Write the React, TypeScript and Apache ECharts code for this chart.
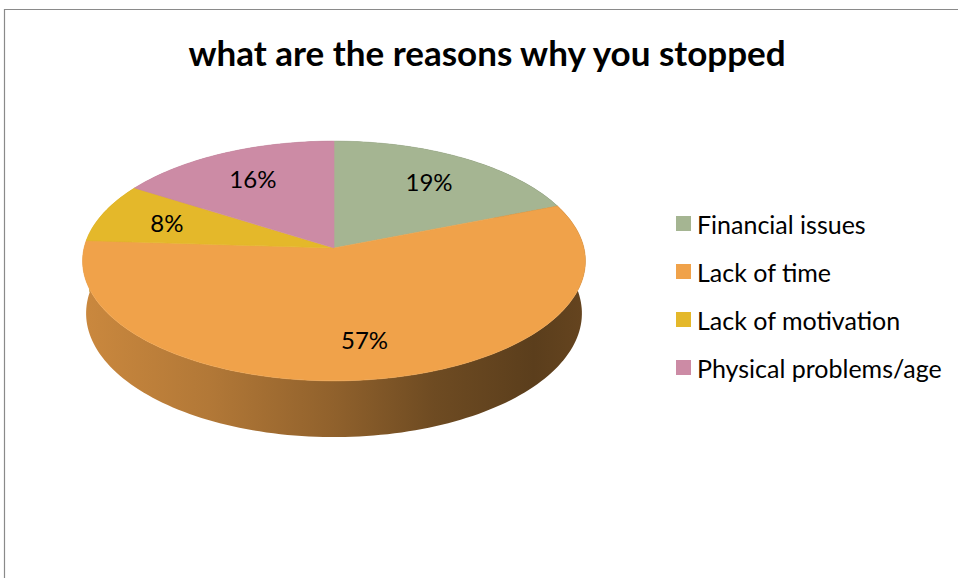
import { useEffect, useRef } from "react";
import * as echarts from "echarts";

const titleText = "what are the reasons why you stopped";
const categories = ["Financial issues", "Lack of time", "Lack of motivation", "Physical problems/age"];
const values = [19, 57, 8, 16];
const colors = ["#a5b592", "#f0a24a", "#e4b82a", "#cc8ba5"];

const FONT = "Lato, 'Open Sans', sans-serif";

// perspective projection of a tilted disc (radius 1, thickness H)
const CX = 334;
const AY = 248;
const F = 2032;
const D = 8.13;
const SA = 0.474;
const CA = 0.88;
const H = 0.24;
const LABEL_R = 0.72;

function project(x: number, y: number, z: number): number[] {
  const yv = y * CA + z * SA;
  const d = D + z * CA - y * SA;
  return [CX + (F * x) / d, AY - (F * yv) / d];
}
function rim(theta: number, r: number, y: number): number[] {
  return project(r * Math.sin(theta), y, r * Math.cos(theta));
}
function shade(hex: string, f: number): string {
  const n = parseInt(hex.slice(1), 16);
  const r = Math.round(((n >> 16) & 255) * f);
  const g = Math.round(((n >> 8) & 255) * f);
  const b = Math.round((n & 255) * f);
  return `rgb(${r},${g},${b})`;
}

export default function App() {
  const ref = useRef<HTMLDivElement>(null);
  useEffect(() => {
    document.body.style.margin = "0";
    const chart = echarts.init(ref.current!, null, { renderer: "svg" });
    const total = values.reduce((a, b) => a + b, 0);
    const leftX = project(-1, 0, 0)[0];
    const rightX = project(1, 0, 0)[0];

    const series = categories.map((name, i) => ({
      type: "custom",
      name,
      coordinateSystem: "none",
      silent: true,
      itemStyle: { color: colors[i] },
      data: [[values[i]]],
      renderItem: (params: any, api: any) => {
        const idx = params.seriesIndex;
        const before = values.slice(0, idx).reduce((a, b) => a + b, 0);
        const start = (before / total) * Math.PI * 2;
        const end = start + (api.value(0) / total) * Math.PI * 2;
        const steps = Math.max(2, Math.ceil((end - start) / (Math.PI / 120)));
        const topPts: number[][] = [project(0, 0, 0)];
        const topArc: number[][] = [];
        const botArc: number[][] = [];
        for (let k = 0; k <= steps; k++) {
          const t = start + ((end - start) * k) / steps;
          topArc.push(rim(t, 1, 0));
          botArc.push(rim(t, 1, -H));
        }
        topPts.push(...topArc);
        const sidePts = [...topArc, ...botArc.reverse()];
        const col = colors[idx];
        const mid = (start + end) / 2;
        const lp = rim(mid, LABEL_R, 0);
        return {
          type: "group",
          children: [
            {
              type: "polygon",
              z2: 1,
              shape: { points: sidePts },
              style: {
                fill: {
                  type: "linear",
                  x: leftX,
                  y: 0,
                  x2: rightX,
                  y2: 0,
                  global: true,
                  colorStops: [
                    { offset: 0, color: shade(col, 0.84) },
                    { offset: 0.25, color: shade(col, 0.74) },
                    { offset: 0.5, color: shade(col, 0.6) },
                    { offset: 0.7, color: shade(col, 0.46) },
                    { offset: 0.9, color: shade(col, 0.38) },
                    { offset: 1, color: shade(col, 0.42) },
                  ],
                },
              },
            },
            {
              type: "polygon",
              z2: 10,
              shape: { points: topPts },
              style: { fill: col, stroke: col, lineWidth: 0.6 },
            },
            {
              type: "text",
              z2: 20,
              x: lp[0],
              y: lp[1],
              style: {
                text: Math.round((api.value(0) / total) * 100) + "%",
                font: `24px ${FONT}`,
                fill: "#000",
                textAlign: "center",
                textVerticalAlign: "middle",
              },
            },
          ],
        };
      },
    }));

    chart.setOption({
      animation: false,
      color: colors,
      legend: {
        data: categories,
        orient: "vertical",
        left: 676,
        top: 211,
        padding: 0,
        icon: "rect",
        itemWidth: 15,
        itemHeight: 15,
        itemGap: 23,
        selectedMode: false,
        textStyle: { fontFamily: FONT, fontSize: 25, color: "#000", lineHeight: 24, padding: [0, 0, 0, 1] },
      },
      graphic: [
        {
          type: "rect",
          silent: true,
          shape: { x: 4.5, y: 9.5, width: 1000, height: 1000 },
          style: { fill: "none", stroke: "#8a8a8a", lineWidth: 1.2 },
        },
        {
          type: "text",
          x: 487,
          y: 52,
          style: {
            text: titleText,
            font: `bold 35px ${FONT}`,
            fill: "#000",
            textAlign: "center",
            textVerticalAlign: "middle",
          },
        },
      ],
      series,
    });
    return () => chart.dispose();
  }, []);
  return <div ref={ref} style={{ width: 958, height: 578 }} />;
}
